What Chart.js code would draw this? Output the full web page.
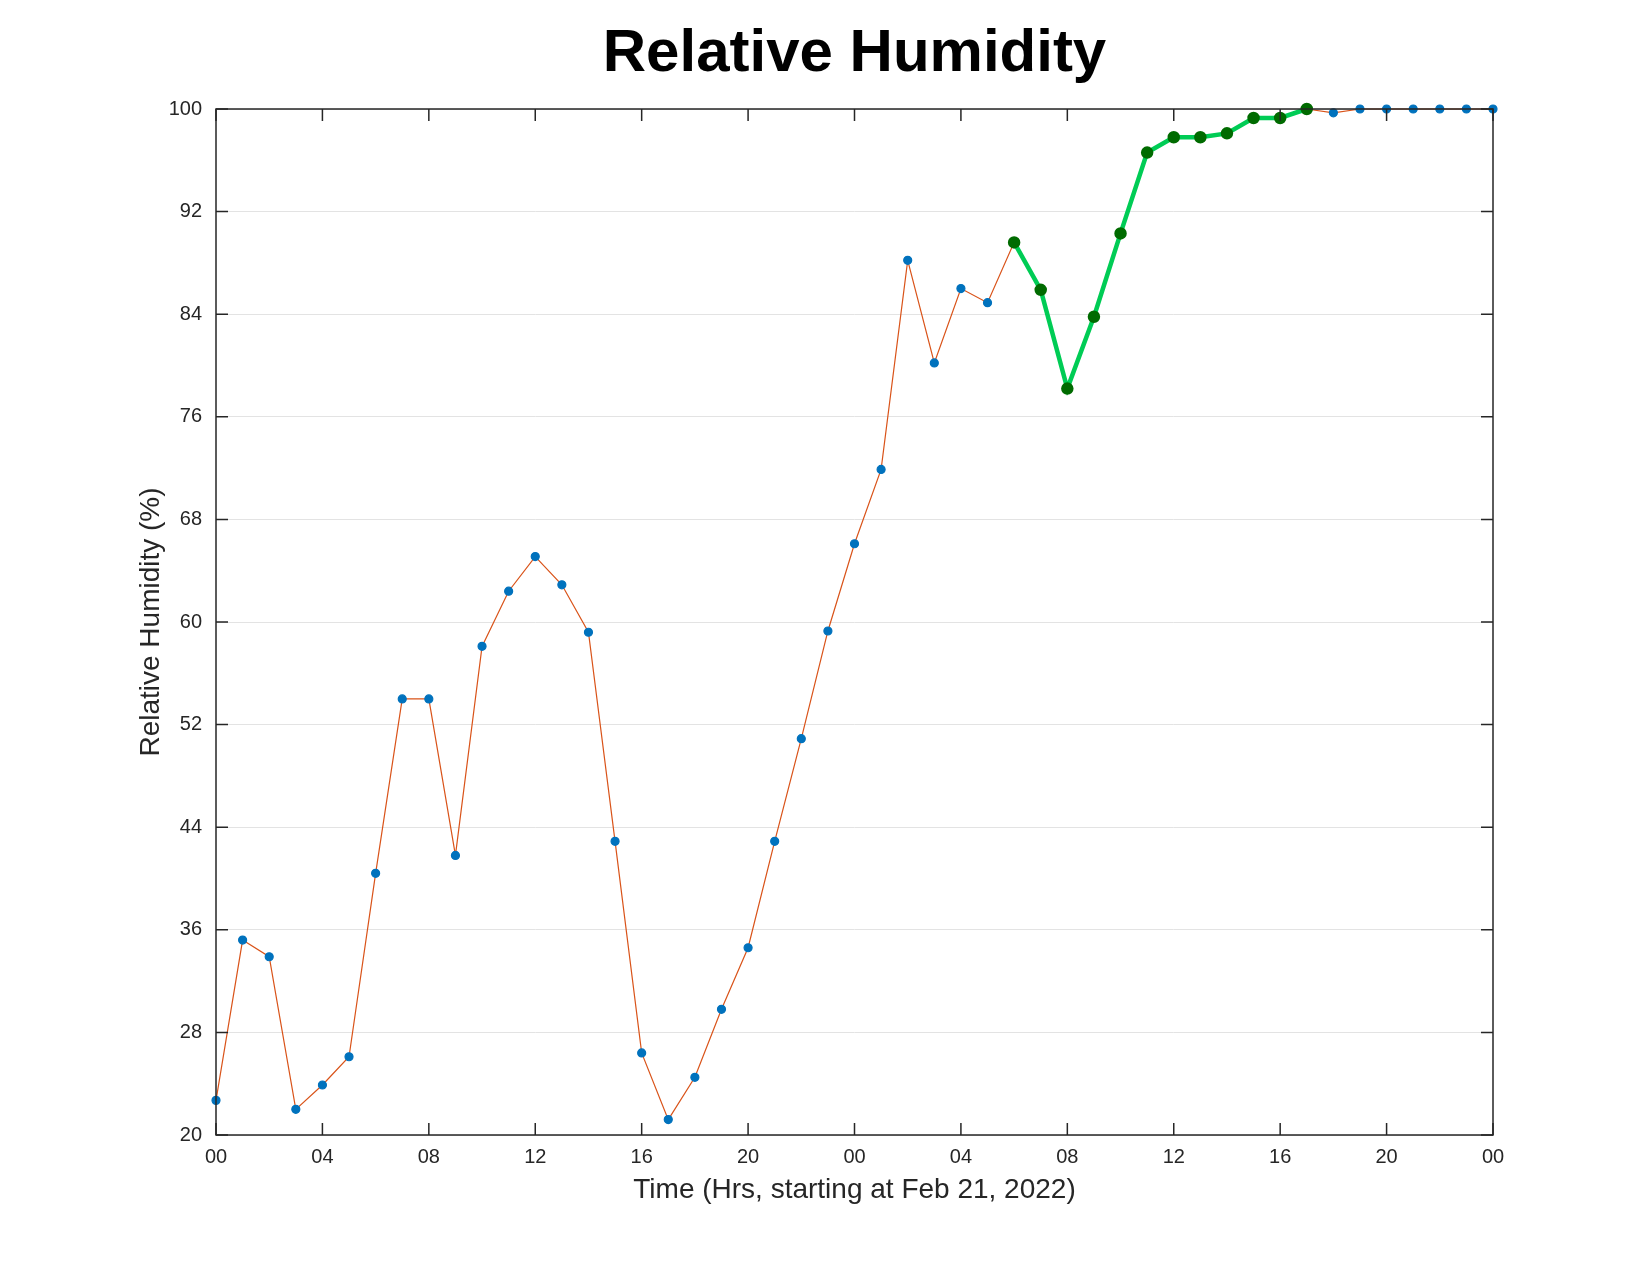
<!DOCTYPE html>
<html>
<head>
<meta charset="utf-8">
<script src="https://cdn.jsdelivr.net/npm/chart.js@4"></script>
<style>
  body { margin: 0; background: #fff; }
  #wrap { width: 1650px; height: 1275px; }
</style>
</head>
<body>
<div id="wrap"><canvas id="c" width="1650" height="1275"></canvas></div>
<script>
const hours = Array.from({ length: 49 }, (_, i) => i);
const humidity = [
  22.7, 35.2, 33.9, 22.0, 23.9, 26.1, 40.4, 54.0, 54.0, 41.8,
  58.1, 62.4, 65.1, 62.9, 59.2, 42.9, 26.4, 21.2, 24.5, 29.8,
  34.6, 42.9, 50.9, 59.3, 66.1, 71.9, 88.2, 80.2, 86.0, 84.9,
  89.6, 85.9, 78.2, 83.8, 90.3, 96.6, 97.8, 97.8, 98.1, 99.3,
  99.3, 100, 99.7, 100, 100, 100, 100, 100, 100
];
const highlightStart = 30;
const highlightEnd = 41;
const yTicks = [20, 28, 36, 44, 52, 60, 68, 76, 84, 92, 100];

const allPts = hours.map((h, i) => ({ x: h, y: humidity[i] }));
const greenPts = allPts.slice(highlightStart, highlightEnd + 1);

const font = "Helvetica, 'Liberation Sans', Arial, sans-serif";

const frame = {
  id: "frame",
  afterDraw(chart) {
    const { ctx, chartArea: a, scales } = chart;
    ctx.save();
    ctx.strokeStyle = "#262626";
    ctx.lineWidth = 1.5;
    ctx.strokeRect(a.left, a.top, a.right - a.left, a.bottom - a.top);
    const len = 12;
    ctx.beginPath();
    for (let v = 0; v <= 48; v += 4) {
      const x = scales.x.getPixelForValue(v);
      ctx.moveTo(x, a.bottom); ctx.lineTo(x, a.bottom - len);
      ctx.moveTo(x, a.top); ctx.lineTo(x, a.top + len);
    }
    yTicks.forEach(v => {
      const y = scales.y.getPixelForValue(v);
      ctx.moveTo(a.left, y); ctx.lineTo(a.left + len, y);
      ctx.moveTo(a.right, y); ctx.lineTo(a.right - len, y);
    });
    ctx.stroke();
    ctx.fillStyle = "#000";
    ctx.font = "bold 60px " + font;
    ctx.textAlign = "center";
    ctx.textBaseline = "middle";
    ctx.fillText("Relative Humidity", (a.left + a.right) / 2, 54);
    ctx.restore();
  }
};

new Chart(document.getElementById("c"), {
  type: "line",
  data: {
    datasets: [
      {
        data: greenPts,
        borderColor: "#00cc55",
        borderWidth: 4.5,
        pointRadius: 4,
        pointBackgroundColor: "#006b00",
        pointBorderColor: "#006b00",
        clip: false,
        order: 0
      },
      {
        data: allPts,
        borderColor: "#d95319",
        borderWidth: 1.2,
        pointRadius: 4,
        pointBackgroundColor: "#0072bd",
        pointBorderColor: "#0072bd",
        clip: false,
        order: 1
      }
    ]
  },
  options: {
    responsive: false,
    animation: false,
    layout: { padding: { top: 109, right: 157, left: 130, bottom: 64 } },
    plugins: { legend: { display: false }, tooltip: { enabled: false } },
    scales: {
      x: {
        type: "linear",
        min: 0, max: 48,
        afterFit(s) { s.height = 76; },
        grid: { display: false, drawTicks: false },
        border: { display: false },
        ticks: {
          stepSize: 4, padding: 10, color: "#262626",
          font: { size: 20, family: font },
          callback: v => String(v % 24).padStart(2, "0")
        },
        title: {
          display: true, text: "Time (Hrs, starting at Feb 21, 2022)",
          color: "#262626", font: { size: 28, family: font }, padding: { top: 4 }
        }
      },
      y: {
        min: 20, max: 100,
        afterFit(s) { s.width = 86; },
        afterBuildTicks(s) { s.ticks = yTicks.map(v => ({ value: v })); },
        grid: { color: "#e3e3e3", drawTicks: false },
        border: { display: false },
        ticks: { padding: 14, color: "#262626", font: { size: 20, family: font } },
        title: {
          display: true, text: "Relative Humidity (%)",
          color: "#262626", font: { size: 28, family: font }, padding: { bottom: 4 }
        }
      }
    }
  },
  plugins: [frame]
});
</script>
</body>
</html>
